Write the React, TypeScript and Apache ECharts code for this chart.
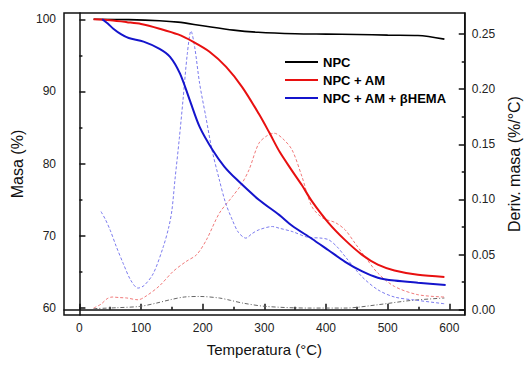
import React, { useEffect, useRef } from "react";
import * as echarts from "echarts";

// ---- Data ----
const seriesNames = ["NPC", "NPC + AM", "NPC + AM + βHEMA"];

// Mass (%) curves – left axis
const tNPC = [23, 80, 130, 160, 200, 250, 290, 350, 400, 450, 500, 549, 592];
const mNPC = [100, 99.95, 99.8, 99.6, 99.1, 98.5, 98.2, 98.0, 97.95, 97.9, 97.8, 97.75, 97.25];

const tAM = [23, 50, 77, 100, 130, 160, 184, 211, 238, 264, 291, 308, 325, 345, 361, 377, 404, 431, 458, 484, 511, 549, 592];
const mAM = [100, 99.85, 99.6, 99.35, 98.7, 97.9, 96.9, 95.5, 93.4, 90.6, 86.9, 84.3, 81.6, 79.0, 77.0, 74.8, 71.8, 69.4, 67.4, 66.0, 65.2, 64.6, 64.3];

const tHEMA = [37, 46, 55, 68, 80, 104, 130, 147, 163, 179, 195, 216, 235, 254, 291, 324, 345, 377, 404, 431, 458, 484, 511, 549, 594];
const mHEMA = [100, 99.4, 98.7, 97.9, 97.4, 96.9, 95.9, 94.8, 92.5, 88.8, 85.1, 81.9, 79.6, 77.9, 75.0, 72.9, 71.4, 69.6, 68.0, 66.4, 65.1, 64.2, 63.8, 63.5, 63.2];

// Derivative (%/°C) curves – right axis
const dtNPC = [23, 60, 98, 125, 147, 170, 195, 227, 245, 265, 302, 372, 431, 484, 538, 592];
const dNPC = [0.001, 0.0018, 0.003, 0.006, 0.009, 0.0115, 0.012, 0.0106, 0.0085, 0.006, 0.003, 0.0015, 0.0015, 0.0045, 0.0084, 0.0106];

const dtAM = [23, 35, 45, 53, 65, 77, 95, 109, 130, 152, 173, 190, 206, 227, 248, 262, 275, 291, 305, 316, 330, 345, 361, 377, 395, 415, 431, 447, 463, 484, 511, 549, 592];
const dAM = [0.0015, 0.005, 0.010, 0.0115, 0.011, 0.0106, 0.009, 0.0127, 0.0217, 0.0347, 0.0437, 0.0498, 0.0633, 0.0875, 0.1025, 0.113, 0.1267, 0.1508, 0.158, 0.16, 0.155, 0.1448, 0.1206, 0.0935, 0.083, 0.079, 0.0724, 0.0603, 0.0482, 0.0332, 0.0211, 0.0136, 0.0115];

const dtHEMA = [35, 42, 50, 60, 71, 83, 95, 105, 120, 136, 145, 150, 155, 162, 168, 175, 181, 187, 195, 205, 215, 227, 237, 248, 258, 270, 280, 291, 313, 324, 345, 372, 390, 404, 418, 431, 458, 484, 511, 549, 592];
const dHEMA = [0.089, 0.082, 0.072, 0.057, 0.042, 0.027, 0.0196, 0.022, 0.033, 0.057, 0.075, 0.09, 0.118, 0.155, 0.19, 0.232, 0.2527, 0.238, 0.205, 0.175, 0.145, 0.1176, 0.097, 0.0814, 0.070, 0.0649, 0.069, 0.0724, 0.0754, 0.0739, 0.0709, 0.0655, 0.065, 0.0635, 0.057, 0.0482, 0.0301, 0.0181, 0.0115, 0.0084, 0.0054];

// Axis ticks
const xMajor = [0, 100, 200, 300, 400, 500, 600];
const xMinor = [50, 150, 250, 350, 450, 550];
const yMajor = [60, 70, 80, 90, 100];
const yMinor = [65, 75, 85, 95];
const dMajor = [0, 0.05, 0.1, 0.15, 0.2, 0.25];
const dMinor = [0.025, 0.075, 0.125, 0.175, 0.225];

const FONT = "Liberation Sans, Arial, sans-serif";

const zip = (a: number[], b: number[]) => a.map((v, i) => [v, b[i]]);

export default function App() {
  const ref = useRef<HTMLDivElement>(null);
  useEffect(() => {
    if (!ref.current) return;
    const chart = echarts.init(ref.current, undefined, { renderer: "svg" });
    const X = { min: -25, max: 625 };
    const Y = { min: 59.03, max: 100.87 };
    const D = { min: -0.0048, max: 0.269 };
    const lab = { fontFamily: FONT, fontSize: 12, color: "#222" };
    const lineSt = { color: "#111", width: 1.5 };
    chart.setOption({
      animation: false,
      backgroundColor: "#fff",
      grid: { left: 64, right: 63, top: 13, bottom: 54, show: true, borderColor: "#111", borderWidth: 1.5, containLabel: false },
      legend: {
        data: seriesNames,
        orient: "vertical",
        left: 285,
        top: 55,
        padding: 0,
        itemWidth: 33,
        itemHeight: 2,
        itemGap: 4,
        icon: "rect",
        textStyle: { fontFamily: FONT, fontSize: 13, fontWeight: "bold", color: "#000", lineHeight: 14 },
      },
      xAxis: [
        {
          type: "value", ...X, position: "bottom",
          axisLine: { show: true, lineStyle: lineSt },
          axisTick: { show: true, inside: true, length: 6, customValues: xMajor, lineStyle: lineSt },
          axisLabel: { show: true, customValues: xMajor, margin: 7, ...lab },
          splitLine: { show: false },
          name: "Temperatura (°C)", nameLocation: "middle", nameGap: 27,
          nameTextStyle: { fontFamily: FONT, fontSize: 15, color: "#111" },
        },
        {
          type: "value", ...X, position: "bottom",
          axisLine: { show: false },
          axisTick: { show: true, inside: true, length: 3, customValues: xMinor, lineStyle: lineSt },
          axisLabel: { show: false },
          splitLine: { show: false },
        },
      ],
      yAxis: [
        {
          type: "value", ...Y, position: "left",
          axisLine: { show: true, lineStyle: lineSt },
          axisTick: { show: true, inside: true, length: 6, customValues: yMajor, lineStyle: lineSt },
          axisLabel: { show: true, customValues: yMajor, margin: 8, ...lab },
          splitLine: { show: false },
          name: "Masa (%)", nameLocation: "middle", nameGap: 37,
          nameTextStyle: { fontFamily: FONT, fontSize: 16, color: "#111" },
        },
        {
          type: "value", ...Y, position: "left",
          axisLine: { show: false },
          axisTick: { show: true, inside: true, length: 3, customValues: yMinor, lineStyle: lineSt },
          axisLabel: { show: false },
          splitLine: { show: false },
        },
        {
          type: "value", ...D, position: "right",
          axisLine: { show: true, lineStyle: lineSt },
          axisTick: { show: true, inside: true, length: 6, customValues: dMajor, lineStyle: lineSt },
          axisLabel: { show: true, customValues: dMajor, margin: 7, formatter: (v: number) => v.toFixed(2), ...lab },
          splitLine: { show: false },
          name: "Deriv. masa (%/°C)", nameLocation: "middle", nameGap: 37,
          nameTextStyle: { fontFamily: FONT, fontSize: 16, color: "#111" },
        },
        {
          type: "value", ...D, position: "right",
          axisLine: { show: false },
          axisTick: { show: true, inside: true, length: 3, customValues: dMinor, lineStyle: lineSt },
          axisLabel: { show: false },
          splitLine: { show: false },
        },
      ],
      series: [
        {
          name: "dNPC", type: "line", yAxisIndex: 2, data: zip(dtNPC, dNPC), showSymbol: false, symbol: "none",
          smooth: 0.3, lineStyle: { color: "#666", width: 1, type: [4, 2, 1, 2] }, silent: true,
        },
        {
          name: "dAM", type: "line", yAxisIndex: 2, data: zip(dtAM, dAM), showSymbol: false, symbol: "none",
          smooth: 0.3, lineStyle: { color: "#f07a7a", width: 1, type: [3, 2] }, silent: true,
        },
        {
          name: "dHEMA", type: "line", yAxisIndex: 2, data: zip(dtHEMA, dHEMA), showSymbol: false, symbol: "none",
          smooth: 0.3, lineStyle: { color: "#7b7bee", width: 1, type: [3, 2] }, silent: true,
        },
        {
          name: seriesNames[0], type: "line", yAxisIndex: 0, data: zip(tNPC, mNPC), showSymbol: false, symbol: "none",
          smooth: 0.3, itemStyle: { color: "#000" }, lineStyle: { color: "#000", width: 1.6 },
        },
        {
          name: seriesNames[1], type: "line", yAxisIndex: 0, data: zip(tAM, mAM), showSymbol: false, symbol: "none",
          smooth: 0.3, itemStyle: { color: "#e81010" }, lineStyle: { color: "#e81010", width: 2 },
        },
        {
          name: seriesNames[2], type: "line", yAxisIndex: 0, data: zip(tHEMA, mHEMA), showSymbol: false, symbol: "none",
          smooth: 0.3, itemStyle: { color: "#1414cc" }, lineStyle: { color: "#1414cc", width: 2 },
        },
      ],
    });
    return () => chart.dispose();
  }, []);
  return <div ref={ref} style={{ position: "absolute", left: 0, top: 0, width: 530, height: 369 }} />;
}
